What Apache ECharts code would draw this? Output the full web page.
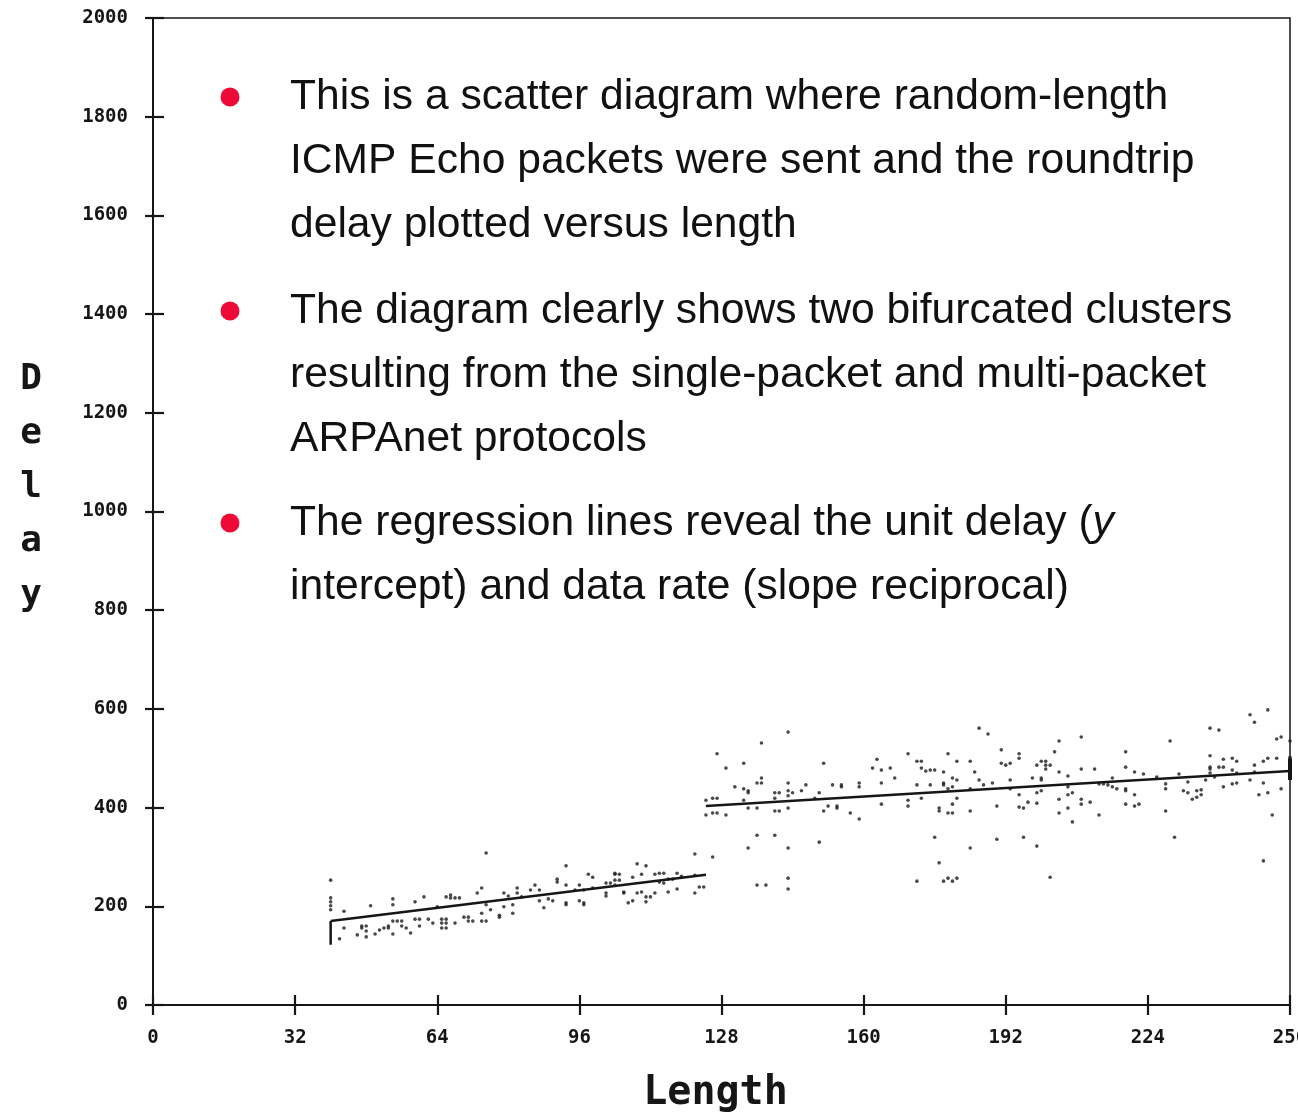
<!DOCTYPE html>
<html>
<head>
<meta charset="utf-8">
<script src="https://cdn.jsdelivr.net/npm/echarts@6/dist/echarts.min.js"></script>
<style>
html,body{margin:0;padding:0;background:#fff;}
#chart{width:1298px;height:1115px;}
</style>
</head>
<body>
<div id="chart"></div>
<script>
// ---- data ----
const xTicks = [0, 32, 64, 96, 128, 160, 192, 224, 256];
const yTicks = [0, 200, 400, 600, 800, 1000, 1200, 1400, 1600, 1800, 2000];

// single-packet cluster
const shortLen = [40,40,40,40,40,42,43,43,46,47,47,48,48,48,49,50,51,52,53,53,54,54,54,54,55,56,56,57,58,59,59,60,60,61,62,63,64,65,65,65,66,66,66,66,67,67,68,69,68,70,71,71,72,73,74,74,75,75,74,76,75,78,78,79,79,80,81,81,82,82,83,85,86,87,87,88,89,90,91,91,93,93,93,93,95,96,96,97,97,98,99,97,99,102,102,102,104,104,104,105,105,103,104,106,106,107,108,108,109,110,109,110,111,111,113,111,112,113,114,115,114,115,116,117,116,118,118,119,122,122,122,123,126,124];
const shortDelay = [253,217,209,201,193,134,190,156,142,160,156,160,150,138,201,144,152,156,160,156,215,203,170,144,170,170,160,156,146,209,174,174,160,219,174,166,199,174,166,156,174,166,156,219,223,217,217,217,166,178,178,170,170,227,237,170,170,308,186,193,203,182,178,199,227,221,203,186,237,227,219,233,243,233,211,197,215,211,255,249,282,243,207,203,233,243,211,207,203,265,259,233,237,247,227,221,265,267,253,253,265,247,243,229,227,207,211,259,286,265,227,229,209,282,265,219,219,227,267,267,249,247,255,255,229,235,267,261,306,263,227,239,300,239];

// multi-packet cluster
const longLen = [124.5,126,127,124.5,126,127,129,127,129,131,133,133,133,134,134,134,136,136,137,137,137,140,140,140,141,141,143,144,143,143,143,143,136,140,134,143,136,138,143,143,146,147,149,150,150,151,151,152,153,155,155,154,154,157,159,159,159,162,163,164,166,164,167,164,170,172,173,173,174,175,176,172,175,170,170,173,176,177,172,178,179,180,181,178,178,178,179,180,181,179,180,177,177,179,180,180,181,181,184,185,184,184,184,186,188,186,187,189,190,190,191,191,192,193,195,195,193,193,195,195,196,197,196,199,198,199,200,201,201,201,202,203,200,200,200,199,199,204,204,204,204,206,206,206,206,207,207,209,209,212,209,209,211,213,213,214,215,216,216,217,202,219,219,219,219,219,221,222,221,221,223,226,228,228,228,229,230,231,232,233,234,235,236,236,235,233,238,240,238,238,238,238,237,239,240,241,241,241,243,244,243,244,243,244,247,248,251,247,248,248,250,251,250,249,251,252,250,253,254,256,253,254,256,256,256];
const longDelay = [415,419,419,385,389,389,385,509,480,442,490,438,415,430,434,399,399,450,531,460,450,430,419,393,393,430,434,430,424,450,553,399,344,344,318,318,243,243,257,235,434,446,419,430,330,490,393,403,446,446,442,403,399,389,450,442,377,480,498,476,480,450,460,407,509,494,494,480,474,476,476,446,446,415,403,419,340,288,251,251,257,251,257,472,450,446,509,460,456,438,442,399,393,389,389,407,494,419,494,472,438,393,318,561,549,456,446,450,403,336,517,490,486,490,500,509,456,438,426,401,399,411,340,322,460,486,494,494,486,478,486,513,460,456,434,430,409,535,472,417,389,464,442,426,399,430,371,543,478,478,417,407,411,448,385,448,446,460,442,438,259,513,482,438,434,407,472,407,426,403,468,462,448,438,393,535,340,468,434,430,417,434,436,426,421,452,561,557,505,482,478,470,456,462,482,482,498,442,500,494,476,470,448,450,588,573,598,456,486,472,494,500,450,426,430,385,292,539,543,535,500,438,502,472,460];

// regression lines and end markers
const fitShortLen = [40, 124.5];
const fitShortDelay = [170, 264];
const fitLongLen = [124.5, 256];
const fitLongDelay = [403, 474];
const startBarLen = [40, 40];
const startBarDelay = [122, 170];
const endBarLen = [256, 256];
const endBarDelay = [456, 500];

const yTitle = 'Delay';
const xTitle = 'Length';

const zip = (a, b) => a.map((v, i) => [v, b[i]]);

const INK = '#161616';
const MONO = '"DejaVu Sans Mono", "Liberation Mono", monospace';
const SANS = '"Liberation Sans", Arial, Helvetica, sans-serif';
const RED = '#ee0a36';
const FS = 42.6;

const chart = echarts.init(document.getElementById('chart'), null, {renderer: 'canvas'});

const baseX = {
  type: 'value', min: 0, max: 256, interval: 32, gridIndex: 0,
  splitLine: {show: false}
};
const baseY = {
  type: 'value', min: 0, max: 2000, interval: 200, gridIndex: 0,
  splitLine: {show: false}
};

const bullets = [
  {cy: 97, lines: [
    'This is a scatter diagram where random-length',
    'ICMP Echo packets were sent and the roundtrip',
    'delay plotted versus length'], y0: 97},
  {cy: 311, lines: [
    'The diagram clearly shows two bifurcated clusters',
    'resulting from the single-packet and multi-packet',
    'ARPAnet protocols'], y0: 311},
  {cy: 523, lines: [
    'The regression lines reveal the unit delay ({i|y}',
    'intercept) and data rate (slope reciprocal)'], y0: 523}
];
const graphics = [];
bullets.forEach(b => {
  graphics.push({type: 'circle', shape: {cx: 230, cy: b.cy, r: 9.5}, style: {fill: RED}, z: 100});
  b.lines.forEach((t, i) => {
    graphics.push({
      type: 'text', x: 290, y: b.y0 + i * 64, z: 100,
      style: {
        text: t, fill: '#111', font: FS + 'px ' + SANS,
        align: 'left', verticalAlign: 'middle',
        rich: {i: {fontStyle: 'italic', fontSize: FS, fontFamily: SANS, fill: '#111'}}
      }
    });
  });
});
// vertical (stacked) y-axis title, as in the plotter output
graphics.push({
  type: 'text', x: 31, y: 488, z: 100,
  style: {
    text: yTitle.split('').join('\n'), fill: INK,
    font: 'bold 36px ' + MONO, lineHeight: 54,
    align: 'center', verticalAlign: 'middle'
  }
});

const option = {
  animation: false,
  backgroundColor: '#ffffff',
  grid: {
    left: 153, right: 8, top: 18, bottom: 110,
    containLabel: false, outerBoundsMode: 'none',
    show: true, borderColor: INK, borderWidth: 1.5, backgroundColor: 'transparent'
  },
  xAxis: [
    Object.assign({}, baseX, {
      position: 'bottom',
      name: xTitle, nameLocation: 'middle', nameGap: 69,
      nameTextStyle: {fontFamily: MONO, fontWeight: 'bold', fontSize: 40, color: INK, padding: [0, 12, 0, 0]},
      axisLine: {show: true, onZero: false, lineStyle: {color: INK, width: 2}},
      axisTick: {show: true, inside: false, length: 10, lineStyle: {color: INK, width: 2.2}},
      axisLabel: {show: true, margin: 24, fontFamily: MONO, fontWeight: 'bold', fontSize: 19, color: INK,
        formatter: v => String(v), showMaxLabel: true}
    }),
    Object.assign({}, baseX, {
      position: 'bottom',
      axisLine: {show: false, onZero: false},
      axisTick: {show: true, inside: true, length: 10, lineStyle: {color: INK, width: 2.2}},
      axisLabel: {show: false}
    })
  ],
  yAxis: [
    Object.assign({}, baseY, {
      position: 'left',
      axisLine: {show: true, onZero: false, lineStyle: {color: INK, width: 2}},
      axisTick: {show: true, inside: false, length: 8, lineStyle: {color: INK, width: 2.2}},
      axisLabel: {show: true, margin: 25, fontFamily: MONO, fontWeight: 'bold', fontSize: 19, color: INK,
        formatter: v => String(v)}
    }),
    Object.assign({}, baseY, {
      position: 'left',
      axisLine: {show: false, onZero: false},
      axisTick: {show: true, inside: true, length: 11, lineStyle: {color: INK, width: 2.2}},
      axisLabel: {show: false}
    })
  ],
  series: [
    {type: 'scatter', name: 'single-packet', xAxisIndex: 0, yAxisIndex: 0,
      data: zip(shortLen, shortDelay), symbol: 'circle', symbolSize: 3.6,
      itemStyle: {color: '#1c1c1c'}, silent: true},
    {type: 'scatter', name: 'multi-packet', xAxisIndex: 0, yAxisIndex: 0,
      data: zip(longLen, longDelay), symbol: 'circle', symbolSize: 3.6,
      itemStyle: {color: '#1c1c1c'}, silent: true},
    {type: 'line', name: 'fit single', data: zip(fitShortLen, fitShortDelay),
      showSymbol: false, lineStyle: {color: INK, width: 2.5}, silent: true},
    {type: 'line', name: 'fit multi', data: zip(fitLongLen, fitLongDelay),
      showSymbol: false, lineStyle: {color: INK, width: 2.5}, silent: true},
    {type: 'line', name: 'start bar', data: zip(startBarLen, startBarDelay),
      showSymbol: false, lineStyle: {color: INK, width: 2.5}, silent: true},
    {type: 'line', name: 'end bar', data: zip(endBarLen, endBarDelay),
      showSymbol: false, lineStyle: {color: INK, width: 4}, silent: true, clip: false}
  ],
  graphic: graphics
};
chart.setOption(option);
</script>
</body>
</html>
